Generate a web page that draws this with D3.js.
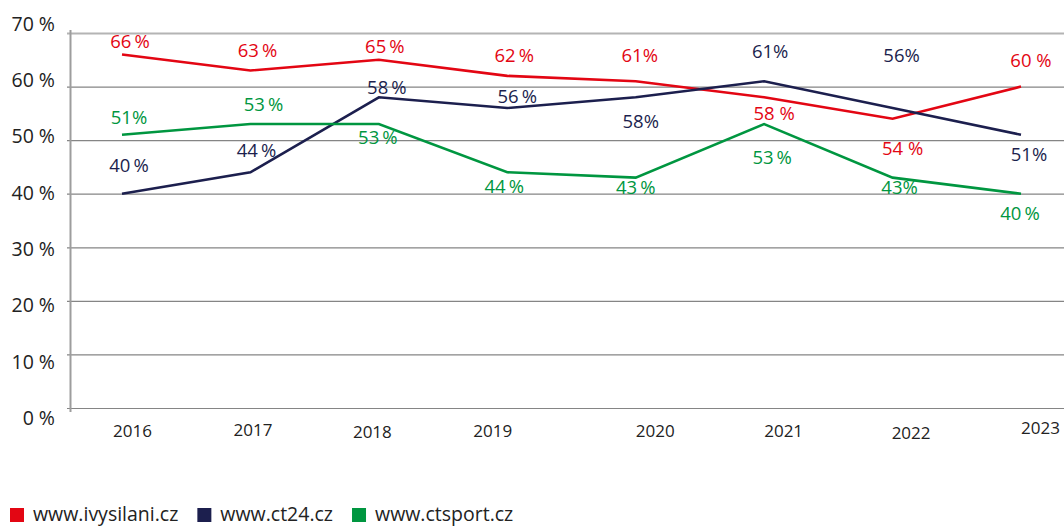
<!DOCTYPE html>
<html>
<head>
<meta charset="utf-8">
<script src="https://cdn.jsdelivr.net/npm/d3@7"></script>
<style>
  html, body { margin: 0; padding: 0; background: #fff; }
  svg { display: block; font-family: "Open Sans", "Noto Sans", sans-serif; }
</style>
</head>
<body>
<svg id="chart" width="1064" height="527"></svg>
<script>
// Survey years
const years = ["2016", "2017", "2018", "2019", "2020", "2021", "2022", "2023"];

// Share per site, percent
const ivysilani = [66, 63, 65, 62, 61, 58, 54, 60];
const ct24      = [40, 44, 58, 56, 58, 61, 56, 51];
const ctsport   = [51, 53, 53, 44, 43, 53, 43, 40];

// Gap between number and % sign in each value label
const ivysilaniSep = ["\u2009", "\u2009", "\u2009", "\u2009", "", " ", " ", " "];
const ct24Sep      = ["\u2009", "\u2009", "\u2009", "\u2009", "", "", "", ""];
const ctsportSep   = ["", "\u2009", "\u2009", "\u2009", "\u2009", "\u2009", "", "\u2009"];

const yTicks = [0, 10, 20, 30, 40, 50, 60, 70];
const yTickLabels = ["0 %", "10 %", "20 %", "30 %", "40 %", "50 %", "60 %", "70 %"];
const seriesNames = ["www.ivysilani.cz", "www.ct24.cz", "www.ctsport.cz"];

// ---- layout ----
const colors = ["#e30613", "#1c1f4e", "#009640"];
const W = 1064, H = 527;
const axisX = 70;

// value-label nudges (px) relative to each point
const labelOffsets = [
  { dx: [8, 7, 6, 7, 4, 10, 10, 10],   dy: [-13, -20, -13, -20, -26, 16, 30, -26] },
  { dx: [7, 6, 8, 10, 5, 6, 9, 8],     dy: [-28, -22, -10, -11, 24, -30, -52, 20] },
  { dx: [7, 13, -1, -3, 0, 8, 7, -1],  dy: [-17, -20, 13, 14, 10, 33, 10, 20] }
];
// year label nudges (px)
const yearDx = [10, 2, -7, -15, 19, 19, 18, 19];
const yearDy = [0, -1, 1, 0, 0, 0, 2, -3];

const svg = d3.select("#chart");

const x = d3.scalePoint().domain(years).range([122, 1021]);
const y = d3.scaleLinear().domain([0, 70]).range([408, 33]);
// tick texts sit on a slightly stretched scale of their own
const yLab = d3.scaleLinear().domain([0, 70]).range([418, 24]);

// gridlines
const grid = svg.append("g")
  .attr("transform", `translate(${axisX},0)`)
  .call(d3.axisLeft(y).tickValues(yTicks).tickSizeInner(-(W - axisX)).tickSizeOuter(0).tickFormat(""));
grid.select(".domain").remove();
grid.selectAll(".tick line")
  .attr("x1", -3)
  .attr("stroke", d => d === 70 ? "#b4b4b4" : "#858585")
  .attr("stroke-width", d => d === 70 ? 2 : 1.2);

// vertical axis line
svg.append("line")
  .attr("x1", axisX + 0.5).attr("x2", axisX + 0.5)
  .attr("y1", y(70) - 3).attr("y2", y(0) + 4)
  .attr("stroke", "#9d9d9d").attr("stroke-width", 2);

// y tick labels
svg.append("g").selectAll("text")
  .data(yTicks)
  .join("text")
  .attr("x", 55)
  .attr("y", d => yLab(d))
  .attr("dy", "0.35em")
  .attr("text-anchor", "end")
  .attr("font-size", 19.5)
  .attr("fill", "#222")
  .text((d, i) => yTickLabels[i]);

// year labels
const xAxis = svg.append("g")
  .attr("transform", `translate(0,${y(0)})`)
  .call(d3.axisBottom(x).tickSize(0).tickPadding(0));
xAxis.select(".domain").remove();
xAxis.selectAll(".tick text")
  .attr("font-family", "'Open Sans', sans-serif")
  .attr("font-size", 17)
  .attr("fill", "#222")
  .attr("dy", null)
  .attr("transform", (d, i) => `translate(${yearDx[i]},${22 + yearDy[i]})`)
  .attr("dominant-baseline", "central");

// series
const series = [
  { name: seriesNames[0], values: ivysilani, sep: ivysilaniSep },
  { name: seriesNames[1], values: ct24, sep: ct24Sep },
  { name: seriesNames[2], values: ctsport, sep: ctsportSep }
];

const line = d3.line()
  .x((d, i) => x(years[i]))
  .y(d => y(d));

series.forEach((s, k) => {
  svg.append("path")
    .datum(s.values)
    .attr("fill", "none")
    .attr("stroke", colors[k])
    .attr("stroke-width", 2.6)
    .attr("stroke-linejoin", "miter")
    .attr("d", line);
});

series.forEach((s, k) => {
  svg.append("g").selectAll("text")
    .data(s.values)
    .join("text")
    .attr("x", (d, i) => x(years[i]) + labelOffsets[k].dx[i])
    .attr("y", (d, i) => y(d) + labelOffsets[k].dy[i])
    .attr("dy", "0.35em")
    .attr("text-anchor", "middle")
    .attr("font-size", 18.5)
    .attr("fill", colors[k])
    .text((d, i) => d + s.sep[i] + "%");
});

// legend
const legend = svg.append("g");
let lx = 10;
series.forEach((s, k) => {
  legend.append("rect")
    .attr("x", lx).attr("y", 508)
    .attr("width", 14).attr("height", 14)
    .attr("fill", colors[k]);
  const t = legend.append("text")
    .attr("x", lx + 23).attr("y", 521)
    .attr("font-size", 19.5)
    .attr("fill", "#222")
    .text(s.name);
  lx = lx + 23 + t.node().getComputedTextLength() + 19;
});
</script>
</body>
</html>
